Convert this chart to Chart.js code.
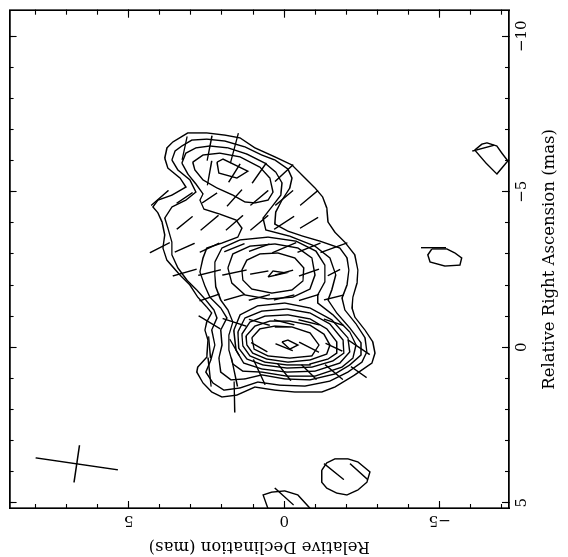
<!DOCTYPE html>
<html><head><meta charset="utf-8">
<script src="https://cdn.jsdelivr.net/npm/chart.js@4.4.1/dist/chart.umd.min.js"></script>
<style>
html,body{margin:0;padding:0;background:#fff;overflow:hidden;width:568px;height:557px;}
#wrap{position:absolute;left:0;top:0;width:557px;height:568px;transform-origin:0 0;transform:translate(0px,557px) rotate(-90deg);}
</style></head><body>
<div id="wrap"><canvas id="c" width="557" height="568"></canvas></div>
<script>
// Axis ranges (mas) and tick labels
const raMin = -10.82, raMax = 5.17;
const decMin = -7.23, decMax = 8.83;
const raTickVals = [-10, -5, 0, 5];
const raTickLabels = ['\u221210', '\u22125', '0', '5'];
const decTickVals = [-5, 0, 5];
const decTickLabels = ['\u22125', '0', '5'];

// Contours: [Dec, RA] pairs in mas
const cntL1 = [[3.84,-6.08],[3.77,-6.41],[3.58,-6.60],[3.10,-6.89],[2.49,-6.89],[1.91,-6.82],[1.42,-6.73],[0.94,-6.41],[0.30,-6.12],[-0.25,-5.86],[-0.67,-5.44],[-0.99,-5.12],[-1.24,-4.83],[-1.37,-4.48],[-1.41,-4.03],[-1.63,-3.70],[-1.95,-3.38],[-2.27,-2.97],[-2.37,-2.48],[-2.34,-2.06],[-2.21,-1.61],[-2.18,-1.26],[-2.27,-0.97],[-2.60,-0.55],[-2.85,-0.17],[-2.92,0.19],[-2.82,0.51],[-2.27,0.89],[-1.63,1.28],[-1.21,1.44],[-0.34,1.44],[0.30,1.38],[0.94,1.28],[1.52,1.54],[2.00,1.60],[2.33,1.44],[2.61,1.15],[2.81,0.80],[2.78,0.64],[2.49,0.32],[2.45,-0.23],[2.55,-0.55],[2.49,-0.81],[2.33,-1.10],[2.49,-1.29],[2.78,-1.61],[3.03,-2.00],[3.35,-2.32],[3.58,-2.58],[3.77,-2.80],[3.90,-3.19],[3.84,-3.61],[3.93,-4.03],[4.06,-4.32],[4.22,-4.51],[4.06,-4.73],[3.61,-4.89],[3.16,-5.15],[3.35,-5.44],[3.74,-5.76]];
const cntL2 = [[3.61,-6.02],[3.51,-6.31],[3.29,-6.47],[2.97,-6.66],[2.49,-6.69],[1.91,-6.63],[1.26,-6.44],[0.72,-6.18],[0.30,-6.02],[-0.12,-5.73],[-0.25,-5.44],[-0.18,-5.12],[0.07,-4.73],[0.27,-4.35],[0.30,-3.96],[-0.12,-3.73],[-0.60,-3.57],[-1.15,-3.41],[-1.79,-3.19],[-2.02,-2.87],[-2.08,-2.48],[-2.02,-2.00],[-1.86,-1.58],[-1.95,-1.20],[-2.31,-0.75],[-2.60,-0.30],[-2.66,0.15],[-2.50,0.48],[-2.05,0.80],[-1.47,1.09],[-0.67,1.25],[0.14,1.22],[0.85,1.12],[1.42,1.31],[1.94,1.38],[2.29,1.15],[2.52,0.80],[2.36,0.41],[2.23,-0.07],[2.33,-0.55],[2.16,-0.94],[2.26,-1.20],[2.52,-1.52],[2.81,-1.84],[3.13,-2.16],[3.42,-2.55],[3.61,-2.97],[3.61,-3.38],[3.74,-3.83],[3.84,-4.15],[3.61,-4.51],[3.16,-4.73],[2.84,-4.99],[3.03,-5.38],[3.42,-5.70]];
const cntL3 = [[3.29,-5.92],[3.16,-6.24],[2.84,-6.41],[2.39,-6.47],[1.81,-6.41],[1.20,-6.21],[0.62,-5.92],[0.27,-5.63],[0.07,-5.28],[0.11,-4.89],[0.40,-4.51],[0.68,-4.15],[0.59,-3.77],[-0.18,-3.57],[-0.99,-3.25],[-1.47,-2.87],[-1.66,-2.32],[-1.53,-1.84],[-1.41,-1.52],[-1.69,-1.10],[-2.11,-0.62],[-2.47,-0.14],[-2.47,0.25],[-2.11,0.57],[-1.63,0.86],[-0.83,1.05],[-0.02,1.02],[0.72,0.89],[1.26,1.02],[1.71,1.05],[2.04,0.80],[2.10,0.35],[2.00,-0.07],[2.04,-0.55],[1.84,-0.94],[2.04,-1.26],[2.39,-1.61],[2.55,-1.97],[2.71,-2.42],[2.61,-2.87],[2.49,-3.19],[2.00,-3.35],[1.49,-3.54],[1.36,-3.83],[1.55,-4.09],[2.07,-4.28],[2.58,-4.44],[2.71,-4.73],[2.61,-4.93],[2.84,-5.25],[3.10,-5.57]];
const cntTopRing = [[2.94,-5.95],[2.61,-6.18],[2.07,-6.24],[1.42,-6.12],[0.78,-5.79],[0.46,-5.44],[0.36,-4.99],[0.52,-4.73],[0.94,-4.64],[1.26,-4.67],[1.65,-4.89],[2.16,-5.12],[2.61,-5.38],[2.87,-5.70]];
const cntTopPeak = [[2.16,-5.95],[1.97,-6.05],[1.17,-5.66],[1.52,-5.44],[2.10,-5.60]];
const cntL4 = [[2.23,-2.74],[2.00,-3.19],[1.42,-3.45],[0.52,-3.54],[-0.38,-3.41],[-1.02,-3.09],[-1.31,-2.64],[-1.31,-2.10],[-1.08,-1.68],[-1.08,-1.42],[-1.57,-1.04],[-2.11,-0.49],[-2.31,-0.07],[-2.21,0.35],[-1.86,0.64],[-0.99,0.93],[-0.09,0.93],[0.72,0.80],[1.33,0.77],[1.65,0.54],[1.78,0.09],[1.78,-0.39],[1.65,-0.81],[1.81,-1.20],[2.04,-1.52],[2.20,-1.94],[2.23,-2.32]];
const cntMid5 = [[1.81,-2.55],[1.65,-3.00],[1.10,-3.25],[0.30,-3.32],[-0.44,-3.19],[-0.89,-2.87],[-0.99,-2.32],[-0.83,-1.87],[-0.28,-1.61],[0.52,-1.55],[1.26,-1.68],[1.68,-2.06]];
const cntMid6 = [[1.36,-2.48],[1.20,-2.80],[0.78,-3.00],[0.20,-3.03],[-0.34,-2.87],[-0.63,-2.55],[-0.60,-2.13],[-0.25,-1.84],[0.40,-1.74],[1.04,-1.87],[1.33,-2.16]];
const cntMidPeak = [[0.52,-2.26],[0.36,-2.45],[-0.05,-2.39]];
const cntCore5 = [[1.62,-0.55],[1.42,-1.04],[0.85,-1.33],[-0.02,-1.42],[-0.83,-1.26],[-1.53,-0.88],[-2.05,-0.30],[-2.11,0.15],[-1.79,0.51],[-0.99,0.77],[-0.09,0.80],[0.72,0.70],[1.30,0.51],[1.55,0.09]];
const cntCore6 = [[1.49,-0.49],[1.26,-0.94],[0.72,-1.16],[-0.09,-1.23],[-0.83,-1.10],[-1.47,-0.75],[-1.89,-0.23],[-1.92,0.19],[-1.57,0.44],[-0.89,0.64],[-0.09,0.67],[0.68,0.57],[1.20,0.38],[1.46,0.03]];
const cntCore7 = [[1.36,-0.42],[1.10,-0.81],[0.62,-1.00],[-0.12,-1.04],[-0.83,-0.91],[-1.37,-0.59],[-1.69,-0.17],[-1.69,0.19],[-1.41,0.38],[-0.83,0.54],[-0.09,0.57],[0.62,0.48],[1.10,0.28],[1.33,-0.04]];
const cntCore8 = [[1.23,-0.36],[0.94,-0.68],[0.46,-0.84],[-0.18,-0.84],[-0.83,-0.71],[-1.28,-0.42],[-1.47,-0.07],[-1.37,0.22],[-0.83,0.41],[-0.12,0.48],[0.56,0.38],[1.01,0.19],[1.20,-0.07]];
const cntCore9 = [[1.04,-0.30],[0.78,-0.59],[0.30,-0.68],[-0.25,-0.65],[-0.83,-0.46],[-1.12,-0.07],[-0.89,0.28],[-0.18,0.35],[0.52,0.28],[0.97,0.06]];
const cntCorePeak = [[0.07,-0.17],[-0.12,-0.23],[-0.44,-0.07],[-0.18,0.06]];
const islandA = [[-6.13,-6.34],[-6.36,-6.53],[-6.52,-6.57],[-6.84,-6.47],[-7.00,-6.24],[-7.19,-5.99],[-6.84,-5.57],[-6.49,-5.92]];
const islandB = [[-4.75,-3.16],[-5.23,-3.16],[-5.49,-3.03],[-5.71,-2.87],[-5.65,-2.64],[-5.17,-2.61],[-4.69,-2.74],[-4.62,-2.97]];
const islandC = [[-1.21,3.95],[-1.37,3.72],[-1.63,3.59],[-2.05,3.59],[-2.37,3.69],[-2.76,4.01],[-2.66,4.34],[-2.37,4.59],[-2.02,4.75],[-1.69,4.69],[-1.37,4.53],[-1.21,4.34]];
const islandD = [[0.48,5.30],[0.68,4.75],[0.40,4.66],[-0.02,4.62],[-0.44,4.75],[-0.94,5.30]];

// Polarization vectors: centre (Dec, RA), angle (deg), length (mas)
const vecDec = [3.2,2.4,1.6, 2.4,1.6,0.8,0.0, 4.0,3.2,2.4,1.6,0.8,0.0,-0.8, 3.2,2.4,1.6,0.8,0.0,-0.8, 4.0,3.2,2.4,1.6,0.8,0.0,-0.8,-1.6, 3.2,2.4,1.6,0.8,0.0,-0.8,-1.6, 2.4,1.6,0.8,0.0,-0.8,-1.6, 2.4,1.6,0.8,0.0,-0.8,-1.6, 2.4,1.6,0.8,0.0,-0.8,-1.6,-2.4, 2.4,1.6,0.8,0.0,-0.8,-1.6,-2.4, 1.6, -6.4,-4.8,-1.6,-2.4,0.0];
const vecRA = [-6.4,-6.4,-6.4, -5.6,-5.6,-5.6,-5.6, -4.8,-4.8,-4.8,-4.8,-4.8,-4.8,-4.8, -4.0,-4.0,-4.0,-4.0,-4.0,-4.0, -3.2,-3.2,-3.2,-3.2,-3.2,-3.2,-3.2,-3.2, -2.4,-2.4,-2.4,-2.4,-2.4,-2.4,-2.4, -1.6,-1.6,-1.6,-1.6,-1.6,-1.6, -0.8,-0.8,-0.8,-0.8,-0.8,-0.8, 0,0,0,0,0,0,0, 0.8,0.8,0.8,0.8,0.8,0.8,0.8, 1.6, -6.4,-3.2,4.0,4.0,4.8];
const vecAngle = [78,79,75, 80,58,55,43, 41,34,34,48,40,40,40, 39,40,41,40,33,31, 27,24,25,22,20,23,22,20, 16,14,12,10,15,19,27, 19,16,15,14,17,14, -31,-18,-16,-14,-14,-18, -85,-60,-30,-22,-27,-25,-34, -84,-78,-65,-52,-45,-40,-35, -89, 15,0,-39,-42,-42];
const vecLen = [0.77,0.82,1.0, 0.8,0.7,0.8,0.8, 0.74,0.62,0.58,0.72,0.75,0.75,0.75, 0.66,0.75,0.73,0.75,0.77,0.68, 0.72,0.70,0.7,0.7,0.7,0.84,0.8,0.92, 0.8,0.75,0.8,0.6,0.6,0.68,0.45, 0.68,0.7,0.7,0.68,0.68,0.66, 0.82,0.8,0.7,0.68,0.7,0.68, 0.7,0.6,0.6,0.6,0.72,0.6,0.85, 0.94,0.95,0.9,0.7,0.68,0.75,0.62, 1.0, 0.73,0.8,0.82,0.77,0.82];

// Beam (restoring beam cross)
const beamDec = 6.67, beamRA = 3.75, beamMajor = 2.67, beamMinor = 1.21, beamAngle = -8.3;

const closedContours = [cntL1, cntL2, cntL3, cntTopRing, cntTopPeak, cntL4, cntMid5, cntMid6, cntMidPeak,
  cntCore5, cntCore6, cntCore7, cntCore8, cntCore9, cntCorePeak, islandA, islandB, islandC];
const openContours = [islandD];

function pts(arr, close) {
  const p = arr.map(([d, r]) => ({x: r, y: d}));
  if (close) p.push({x: arr[0][1], y: arr[0][0]});
  return p;
}
function seg(dec, ra, ang, len, out) {
  const a = ang * Math.PI / 180, h = len / 2;
  out.push({x: ra - h * Math.sin(a), y: dec - h * Math.cos(a)},
           {x: ra + h * Math.sin(a), y: dec + h * Math.cos(a)},
           {x: null, y: null});
}
const lineStyle = {showLine: true, pointRadius: 0, borderColor: '#000', borderWidth: 1.4, fill: false, tension: 0, spanGaps: false};
const datasets = [];
closedContours.forEach(c => datasets.push(Object.assign({data: pts(c, true)}, lineStyle)));
openContours.forEach(c => datasets.push(Object.assign({data: pts(c, false)}, lineStyle)));
const vecPts = [];
for (let i = 0; i < vecDec.length; i++) seg(vecDec[i], vecRA[i], vecAngle[i], vecLen[i], vecPts);
datasets.push(Object.assign({data: vecPts}, lineStyle));
const beamPts = [];
seg(beamDec, beamRA, beamAngle, beamMajor, beamPts);
seg(beamDec, beamRA, beamAngle + 90, beamMinor, beamPts);
datasets.push(Object.assign({data: beamPts}, lineStyle));

const FONT = 'DejaVu Serif';
function fitTo(size) {
  return s => {
    if (s.isHorizontal()) s.height = size; else s.width = size;
    s.paddingLeft = 0; s.paddingRight = 0; s.paddingTop = 0; s.paddingBottom = 0;
  };
}
const border = {display: true, color: '#000', width: 1.4};
function edgeScale(axis, position, reverse, min, max, tickLen, weight) {
  return {
    type: 'linear', axis, position, reverse, min, max, weight,
    ticks: {display: false, stepSize: tickLen > 5 ? 5 : 1, includeBounds: false},
    grid: {drawOnChartArea: false, drawTicks: true, tickLength: -tickLen, color: '#000', tickWidth: 1.1},
    border, afterFit: fitTo(0)
  };
}

new Chart(document.getElementById('c'), {
  type: 'scatter',
  data: {datasets},
  options: {
    responsive: false, animation: false, events: [],
    plugins: {legend: {display: false}, tooltip: {enabled: false}},
    layout: {padding: {top: 9.6, right: 10.7, left: 0, bottom: 0}},
    scales: {
      x: {
        type: 'linear', axis: 'x', position: 'bottom', reverse: true, min: raMin, max: raMax, weight: 10,
        afterBuildTicks: s => { s.ticks = raTickVals.map(v => ({value: v})); },
        ticks: {callback: (v, i) => raTickLabels[i], font: {family: FONT, size: 15}, color: '#000',
                padding: 11, minRotation: 0, maxRotation: 0, autoSkip: false},
        grid: {drawOnChartArea: false, drawTicks: true, tickLength: -7, color: '#000', tickWidth: 1.1},
        border,
        title: {display: true, text: 'Relative Right Ascension (mas)', color: '#000',
                font: {family: FONT, size: 16.5}, padding: {top: 0, bottom: 8}},
        afterFit: fitTo(59)
      },
      xm: edgeScale('x', 'bottom', true, raMin, raMax, 4, 0),
      xt: edgeScale('x', 'top', true, raMin, raMax, 7, 0),
      xtm: edgeScale('x', 'top', true, raMin, raMax, 4, 0),
      y: {
        type: 'linear', axis: 'y', position: 'left', min: decMin, max: decMax, weight: 10,
        afterBuildTicks: s => { s.ticks = decTickVals.map(v => ({value: v})); },
        ticks: {callback: (v, i) => decTickLabels[i], font: {family: FONT, size: 15}, color: '#000',
                padding: 8, minRotation: 90, maxRotation: 90, crossAlign: 'center', autoSkip: false},
        grid: {drawOnChartArea: false, drawTicks: true, tickLength: -7, color: '#000', tickWidth: 1.1},
        border,
        title: {display: true, text: 'Relative Declination (mas)', color: '#000',
                font: {family: FONT, size: 16.5}, padding: {top: 1, bottom: 0}},
        afterFit: fitTo(49)
      },
      ym: edgeScale('y', 'left', false, decMin, decMax, 4, 0),
      yr: edgeScale('y', 'right', false, decMin, decMax, 7, 0),
      yrm: edgeScale('y', 'right', false, decMin, decMax, 4, 0)
    }
  }
});
</script>
</body></html>
